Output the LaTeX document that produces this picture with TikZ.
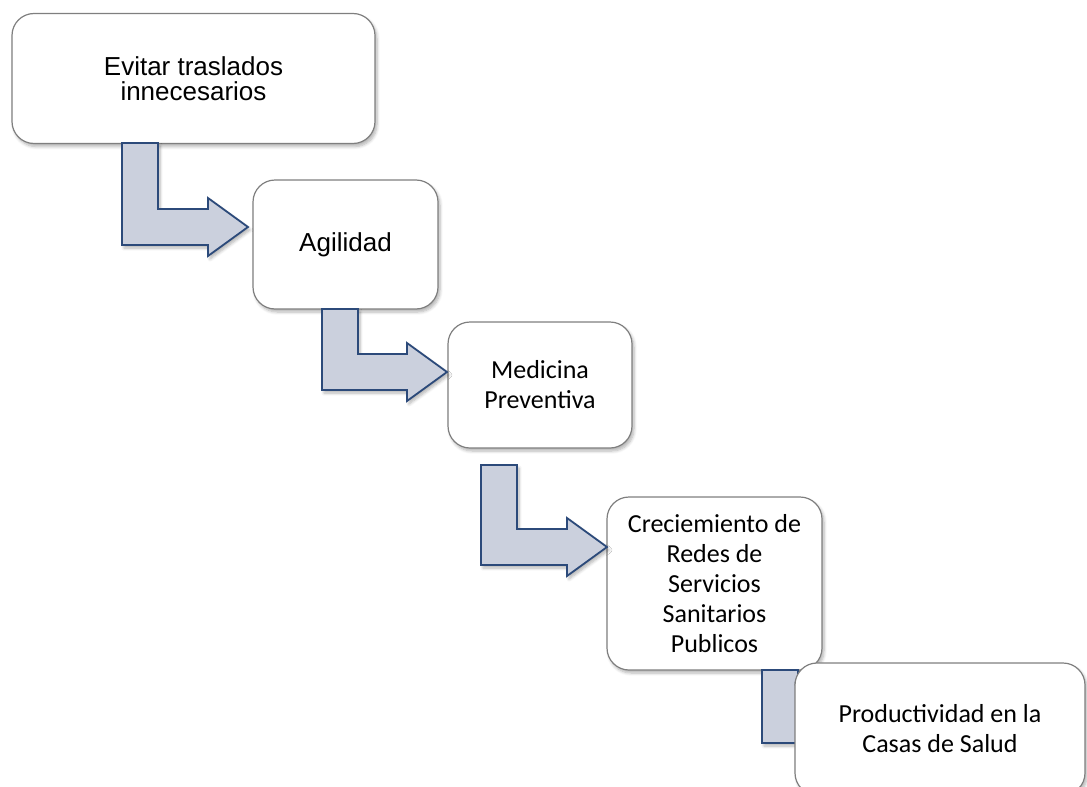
\documentclass[tikz,border=0pt]{standalone}
\usepackage{fontspec}
\newfontfamily\arialf{Liberation Sans}
\newfontfamily\calibf{Carlito}
\usetikzlibrary{calc,shadows.blur}

\definecolor{boxline}{HTML}{7F7F7F}
\definecolor{arrowfill}{HTML}{CBD0DD}
\definecolor{arrowline}{HTML}{2C4A7A}

\tikzset{
  softshadow/.style={blur shadow={shadow xshift=2pt, shadow yshift=-3pt,
      shadow blur steps=6, shadow blur radius=3pt, shadow opacity=30}},
  stagebox/.style={draw=boxline, line width=1.2pt, fill=white,
      rounded corners=22pt, softshadow, align=center,
      inner sep=0pt, outer sep=0pt},
  sansbox/.style={stagebox, font=\arialf\fontsize{26}{25}\selectfont},
  calibbox/.style={stagebox, font=\calibf\fontsize{26}{30}\selectfont},
  flowarrow/.style={draw=arrowline, line width=1.8pt, fill=arrowfill,
      line join=miter, softshadow}
}

% bent block arrow: #1 = top-left corner of the stem, #2 = tip
\newcommand\bentarrow[2]{%
  \path[flowarrow] let \p1=(#1), \p2=(#2) in
    (\x1,\y1) -- (\x1+36pt,\y1) -- (\x1+36pt,\y2+18pt)
    -- (\x2-40pt,\y2+18pt) -- (\x2-40pt,\y2+29pt) -- (\x2,\y2)
    -- (\x2-40pt,\y2-29pt) -- (\x2-40pt,\y2-18pt) -- (\x1,\y2-18pt) -- cycle;}

\begin{document}
\begin{tikzpicture}[x=1pt,y=-1pt]
  \useasboundingbox (0,0) rectangle (1087,787);
  \clip (0,0) rectangle (1087,787);

  \node[sansbox, minimum width=363pt, minimum height=130pt] (b1) at (193.5,78.5)
    {Evitar traslados\\innecesarios};
  \node[sansbox, minimum width=185pt, minimum height=129pt] (b2) at (345.5,244.5)
    {Agilidad};
  \node[calibbox, minimum width=184pt, minimum height=126pt] (b3) at (540,385)
    {Medicina\\Preventiva};
  \node[calibbox, minimum width=215pt, minimum height=173pt] (b4) at (714.5,583.5)
    {Creciemiento de\\Redes de\\Servicios\\Sanitarios\\Publicos};

  % stems start below each box, heads point at the next one
  \coordinate (s1) at (122,143);  \coordinate (t1) at (248,227);
  \coordinate (s2) at (322,309);  \coordinate (t2) at (447,372);
  \coordinate (s3) at (481,465);  \coordinate (t3) at (607,547);
  \coordinate (s4) at (762,670);  \coordinate (t4) at (838,725);

  \bentarrow{s1}{t1}
  \bentarrow{s2}{t2}
  \bentarrow{s3}{t3}
  \bentarrow{s4}{t4}

  \node[calibbox, minimum width=290pt, minimum height=132pt] (b5) at (940,729)
    {Productividad en la\\Casas de Salud};
\end{tikzpicture}
\end{document}
